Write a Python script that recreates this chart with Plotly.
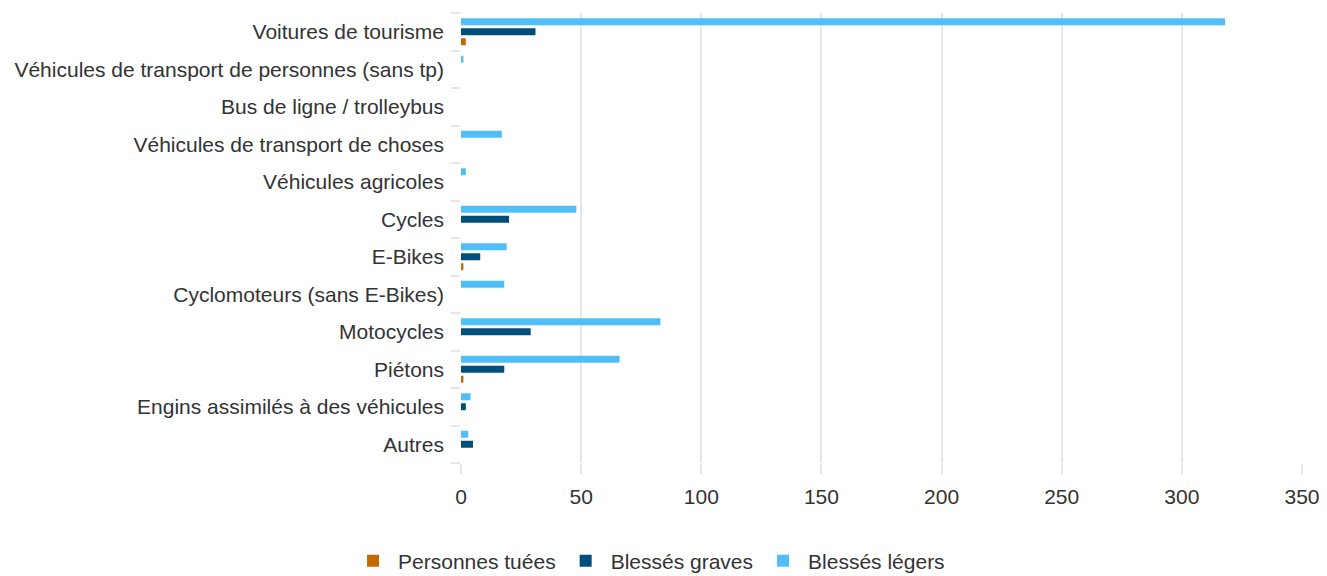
import plotly.graph_objects as go

categories = [
    "Voitures de tourisme",
    "Véhicules de transport de personnes (sans tp)",
    "Bus de ligne / trolleybus",
    "Véhicules de transport de choses",
    "Véhicules agricoles",
    "Cycles",
    "E-Bikes",
    "Cyclomoteurs (sans E-Bikes)",
    "Motocycles",
    "Piétons",
    "Engins assimilés à des véhicules",
    "Autres",
]
tues = [2, 0, 0, 0, 0, 0, 1, 0, 0, 1, 0, 0]
graves = [31, 0, 0, 0, 0, 20, 8, 0, 29, 18, 2, 5]
legers = [318, 1, 0, 17, 2, 48, 19, 18, 83, 66, 4, 3]
x_ticks = [0, 50, 100, 150, 200, 250, 300, 350]

cats_r = categories[::-1]
series = [
    ("Personnes tuées", tues, "#c26a00"),
    ("Blessés graves", graves, "#004f7a"),
    ("Blessés légers", legers, "#50bff8"),
]

fig = go.Figure()
for name, vals, col in series:
    fig.add_trace(go.Bar(
        y=cats_r, x=vals[::-1], name=name, orientation="h",
        marker=dict(color=col, line=dict(width=0)),
    ))

fig.update_layout(
    width=1319, height=568,
    barmode="group", bargap=0.2, bargroupgap=0.3,
    plot_bgcolor="white", paper_bgcolor="white",
    font=dict(family="Liberation Sans, Arial, sans-serif", size=21, color="#333333"),
    margin=dict(l=453, r=25, t=5, b=113, autoexpand=False),
    legend=dict(orientation="h", x=0.2236, xanchor="center", y=-0.218, yanchor="middle",
                font=dict(size=21, color="#333333"), traceorder="normal", itemwidth=40),
    showlegend=True,
)
fig.update_xaxes(
    range=[0, 350], tickvals=x_ticks, showgrid=True, gridcolor="#e6e6e6", gridwidth=2,
    zeroline=False, ticks="outside", ticklen=10, tickwidth=2, tickcolor="#e6e6e6",
    showline=False, ticklabelstandoff=5, tickfont=dict(size=21, color="#333333"),
)
fig.update_yaxes(
    type="category", showgrid=False, ticks="outside", tickson="boundaries",
    ticklen=9, tickwidth=2, tickcolor="#e6e6e6", showline=False,
    ticklabelstandoff=16, tickfont=dict(size=21, color="#333333"),
)

fig.write_html("out.html")
